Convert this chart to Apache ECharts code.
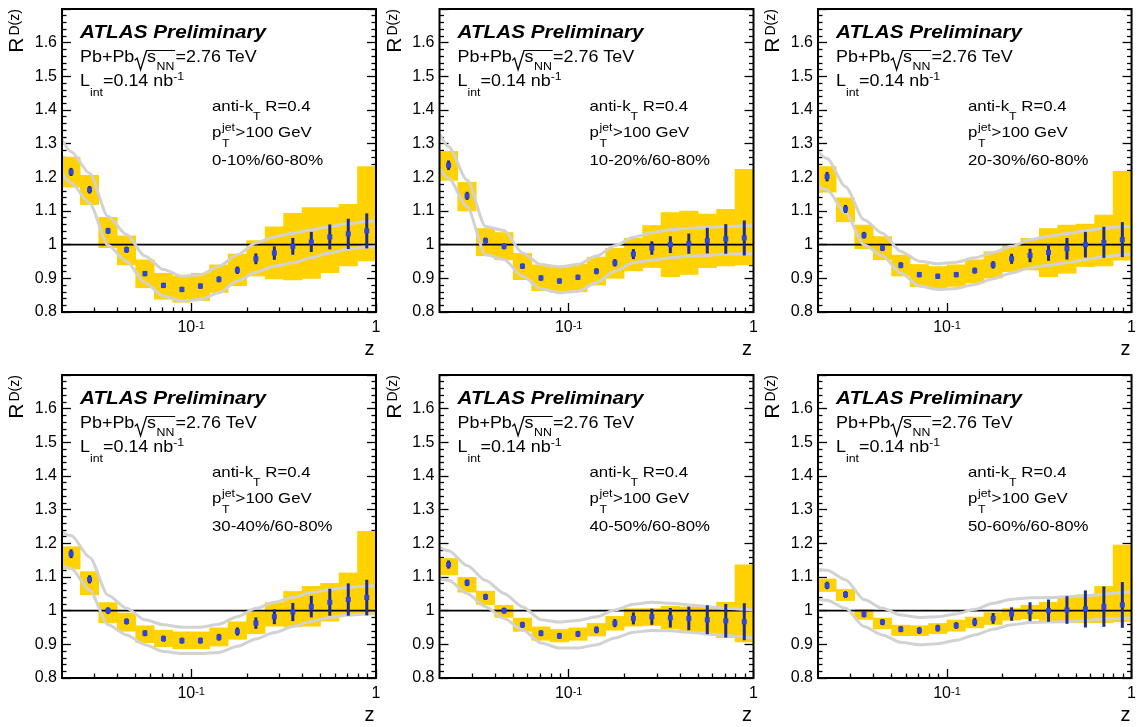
<!DOCTYPE html>
<html><head><meta charset="utf-8">
<script src="https://cdn.jsdelivr.net/npm/echarts@6/dist/echarts.min.js"></script>
<style>html,body{margin:0;padding:0;background:#fff}#c{width:1139px;height:727px}</style>
</head><body><div id="c"></div>
<script>
// ---------------- DATA ----------------
const zEdges = [0.0200, 0.0251, 0.0316, 0.0398, 0.0501, 0.0631, 0.0794, 0.1000, 0.1259, 0.1585, 0.1995, 0.2512, 0.3162, 0.3981, 0.5012, 0.6310, 0.7943, 1.0000];
const zCentres = [0.0224, 0.0282, 0.0355, 0.0447, 0.0562, 0.0708, 0.0891, 0.1122, 0.1413, 0.1778, 0.2239, 0.2818, 0.3548, 0.4467, 0.5623, 0.7079, 0.8913];
const zBand = [0.02, 0.0224, 0.0282, 0.0355, 0.0447, 0.0562, 0.0708, 0.0891, 0.1122, 0.1413, 0.1778, 0.2239, 0.2818, 0.3548, 0.4467, 0.5623, 0.7079, 0.8913, 1.0];
const xMajorTicks = [0.1, 1];
const xMinorTicks = [0.03, 0.04, 0.05, 0.06, 0.07, 0.08, 0.09, 0.2, 0.3, 0.4, 0.5, 0.6, 0.7, 0.8, 0.9];
const centralityLabels = ['0-10%/60-80%', '10-20%/60-80%', '20-30%/60-80%', '30-40%/60-80%', '40-50%/60-80%', '50-60%/60-80%'];

const p1Val   = [1.216, 1.163, 1.041, 0.985, 0.914, 0.879, 0.867, 0.877, 0.897, 0.924, 0.958, 0.975, 0.995, 1.008, 1.023, 1.032, 1.041];
const p1Stat  = [0.012, 0.011, 0.009, 0.009, 0.008, 0.008, 0.008, 0.008, 0.009, 0.011, 0.016, 0.020, 0.025, 0.030, 0.037, 0.045, 0.052];
const p1SysHi = [1.261, 1.207, 1.082, 1.027, 0.956, 0.916, 0.908, 0.916, 0.941, 0.973, 1.013, 1.054, 1.094, 1.111, 1.111, 1.121, 1.233];
const p1SysLo = [1.170, 1.118, 0.990, 0.939, 0.871, 0.837, 0.828, 0.833, 0.857, 0.877, 0.906, 0.897, 0.894, 0.899, 0.916, 0.936, 0.951];
const p1BandUp = [1.312, 1.276, 1.212, 1.084, 1.030, 0.966, 0.926, 0.906, 0.911, 0.936, 0.970, 1.005, 1.023, 1.034, 1.044, 1.054, 1.062, 1.069, 1.071];
const p1BandLo = [1.212, 1.184, 1.123, 0.998, 0.950, 0.887, 0.847, 0.833, 0.837, 0.857, 0.892, 0.918, 0.936, 0.946, 0.961, 0.975, 0.987, 0.993, 0.993];

const p2Val   = [1.236, 1.145, 1.012, 0.995, 0.936, 0.901, 0.892, 0.903, 0.921, 0.946, 0.972, 0.990, 1.000, 1.003, 1.012, 1.017, 1.020];
const p2Stat  = [0.014, 0.012, 0.009, 0.009, 0.008, 0.008, 0.008, 0.008, 0.009, 0.011, 0.015, 0.020, 0.025, 0.030, 0.038, 0.044, 0.052];
const p2SysHi = [1.278, 1.186, 1.049, 1.037, 0.975, 0.941, 0.933, 0.943, 0.964, 0.990, 1.020, 1.058, 1.096, 1.101, 1.092, 1.106, 1.225];
const p2SysLo = [1.190, 1.099, 0.966, 0.954, 0.895, 0.862, 0.857, 0.859, 0.879, 0.899, 0.921, 0.931, 0.904, 0.911, 0.931, 0.936, 0.939];
const p2BandUp = [1.330, 1.291, 1.192, 1.054, 1.042, 0.975, 0.941, 0.934, 0.941, 0.966, 0.997, 1.022, 1.036, 1.044, 1.049, 1.052, 1.054, 1.056, 1.056];
const p2BandLo = [1.227, 1.197, 1.113, 0.970, 0.956, 0.906, 0.869, 0.857, 0.862, 0.887, 0.921, 0.946, 0.954, 0.961, 0.966, 0.968, 0.972, 0.973, 0.973];

const p3Val   = [1.202, 1.106, 1.028, 0.990, 0.939, 0.911, 0.906, 0.911, 0.923, 0.940, 0.958, 0.968, 0.977, 0.988, 1.000, 1.007, 1.015];
const p3Stat  = [0.014, 0.012, 0.010, 0.009, 0.009, 0.008, 0.008, 0.008, 0.009, 0.011, 0.015, 0.020, 0.025, 0.032, 0.038, 0.046, 0.052];
const p3SysHi = [1.233, 1.140, 1.059, 1.025, 0.970, 0.942, 0.936, 0.941, 0.956, 0.980, 0.997, 1.020, 1.049, 1.059, 1.062, 1.089, 1.219];
const p3SysLo = [1.155, 1.067, 0.987, 0.954, 0.906, 0.874, 0.870, 0.875, 0.885, 0.900, 0.919, 0.924, 0.904, 0.914, 0.934, 0.936, 0.953];
const p3BandUp = [1.276, 1.256, 1.172, 1.074, 1.034, 0.980, 0.951, 0.943, 0.948, 0.961, 0.977, 0.995, 1.015, 1.025, 1.033, 1.041, 1.049, 1.054, 1.054];
const p3BandLo = [1.174, 1.163, 1.094, 1.000, 0.966, 0.916, 0.877, 0.867, 0.870, 0.882, 0.899, 0.916, 0.931, 0.939, 0.946, 0.956, 0.964, 0.970, 0.972];

const p4Val   = [1.169, 1.093, 1.000, 0.968, 0.933, 0.917, 0.911, 0.911, 0.921, 0.938, 0.963, 0.982, 0.996, 1.012, 1.025, 1.033, 1.039];
const p4Stat  = [0.013, 0.012, 0.010, 0.009, 0.009, 0.009, 0.009, 0.009, 0.010, 0.012, 0.017, 0.022, 0.027, 0.032, 0.040, 0.048, 0.053];
const p4SysHi = [1.191, 1.117, 1.025, 0.994, 0.956, 0.943, 0.938, 0.938, 0.950, 0.968, 0.997, 1.025, 1.058, 1.073, 1.082, 1.113, 1.237];
const p4SysLo = [1.123, 1.046, 0.963, 0.938, 0.904, 0.892, 0.886, 0.886, 0.894, 0.914, 0.931, 0.953, 0.951, 0.953, 0.968, 0.984, 0.990];
const p4BandUp = [1.232, 1.223, 1.159, 1.046, 1.007, 0.973, 0.958, 0.951, 0.951, 0.960, 0.982, 1.007, 1.025, 1.039, 1.053, 1.063, 1.069, 1.073, 1.073];
const p4BandLo = [1.134, 1.125, 1.061, 0.958, 0.928, 0.899, 0.879, 0.873, 0.873, 0.876, 0.894, 0.916, 0.935, 0.953, 0.968, 0.980, 0.987, 0.990, 0.990];

const p5Val   = [1.137, 1.083, 1.041, 1.000, 0.958, 0.933, 0.925, 0.931, 0.943, 0.963, 0.977, 0.982, 0.979, 0.977, 0.973, 0.970, 0.967];
const p5Stat  = [0.012, 0.010, 0.009, 0.009, 0.009, 0.009, 0.009, 0.009, 0.010, 0.012, 0.018, 0.024, 0.029, 0.035, 0.043, 0.050, 0.055];
const p5SysHi = [1.156, 1.100, 1.059, 1.017, 0.979, 0.953, 0.945, 0.950, 0.963, 0.984, 1.007, 1.007, 1.014, 1.012, 1.012, 1.026, 1.137];
const p5SysLo = [1.105, 1.054, 1.017, 0.979, 0.938, 0.911, 0.906, 0.911, 0.924, 0.941, 0.953, 0.955, 0.945, 0.933, 0.931, 0.919, 0.906];
const p5BandUp = [1.188, 1.178, 1.134, 1.090, 1.051, 1.012, 0.973, 0.966, 0.971, 0.982, 1.002, 1.019, 1.025, 1.022, 1.017, 1.012, 1.007, 1.004, 1.002];
const p5BandLo = [1.095, 1.090, 1.051, 1.012, 0.977, 0.943, 0.904, 0.889, 0.889, 0.899, 0.919, 0.936, 0.941, 0.940, 0.936, 0.931, 0.926, 0.922, 0.919];

const p6Val   = [1.075, 1.048, 0.989, 0.966, 0.945, 0.941, 0.948, 0.956, 0.966, 0.977, 0.990, 0.997, 1.000, 1.002, 1.005, 1.012, 1.017];
const p6Stat  = [0.011, 0.010, 0.009, 0.009, 0.009, 0.010, 0.010, 0.010, 0.012, 0.016, 0.020, 0.028, 0.033, 0.041, 0.055, 0.060, 0.068];
const p6SysHi = [1.095, 1.064, 1.005, 0.979, 0.958, 0.956, 0.963, 0.973, 0.982, 0.995, 1.007, 1.017, 1.026, 1.039, 1.048, 1.073, 1.196];
const p6SysLo = [1.056, 1.029, 0.973, 0.945, 0.925, 0.925, 0.931, 0.938, 0.948, 0.958, 0.971, 0.975, 0.966, 0.963, 0.963, 0.963, 0.966];
const p6BandUp = [1.122, 1.120, 1.092, 1.033, 1.007, 0.987, 0.980, 0.982, 0.990, 1.004, 1.022, 1.034, 1.038, 1.039, 1.041, 1.044, 1.049, 1.054, 1.056];
const p6BandLo = [1.034, 1.031, 1.007, 0.953, 0.928, 0.906, 0.899, 0.902, 0.912, 0.928, 0.945, 0.958, 0.965, 0.966, 0.968, 0.971, 0.975, 0.977, 0.979];

// ---------------- BUILD ----------------
const panels = [
  {val: p1Val, stat: p1Stat, hi: p1SysHi, lo: p1SysLo, up: p1BandUp, dn: p1BandLo},
  {val: p2Val, stat: p2Stat, hi: p2SysHi, lo: p2SysLo, up: p2BandUp, dn: p2BandLo},
  {val: p3Val, stat: p3Stat, hi: p3SysHi, lo: p3SysLo, up: p3BandUp, dn: p3BandLo},
  {val: p4Val, stat: p4Stat, hi: p4SysHi, lo: p4SysLo, up: p4BandUp, dn: p4BandLo},
  {val: p5Val, stat: p5Stat, hi: p5SysHi, lo: p5SysLo, up: p5BandUp, dn: p5BandLo},
  {val: p6Val, stat: p6Stat, hi: p6SysHi, lo: p6SysLo, up: p6BandUp, dn: p6BandLo}
];

const FONT = '"Liberation Sans", Arial, Helvetica, sans-serif';
const mctx = document.createElement('canvas').getContext('2d');
function tw(s, size, w, st) { mctx.font = (st || 'normal') + ' ' + (w || 'normal') + ' ' + size + 'px ' + FONT; return mctx.measureText(s).width; }
function txt(x, base, s, size, o) {
  o = o || {};
  return {type: 'text', x: x, y: base - 0.3465 * size, silent: true, z: 100,
    style: {text: s, fontSize: size, fontFamily: FONT, fontWeight: o.w || 'normal', fontStyle: o.st || 'normal',
      fill: '#000', align: o.align || 'left', verticalAlign: 'middle'}};
}
function runLine(parts) {
  let x = 0; const ch = [];
  parts.forEach(p => {
    if (p.gap) { x += p.gap; return; }
    ch.push(txt(x, p.dy || 0, p.t, p.size, p));
    x += tw(p.t, p.size, p.w, p.st);
  });
  return {ch: ch, w: x};
}
const SX = 1.12;

const colL = [62, 439.5, 818], rowT = [9, 375], W = 314, H = 303;
const grids = [], xAxes = [], yAxes = [], series = [], graphics = [];
const tickStyle = {color: '#000', width: 1.3};

panels.forEach((p, i) => {
  const L = colL[i % 3], T = rowT[Math.floor(i / 3)];
  grids.push({left: L, top: T, width: W, height: H, show: true, borderColor: '#000', borderWidth: 2, backgroundColor: 'transparent', z: 10});
  const xi = xAxes.length, yi = yAxes.length;
  xAxes.push({type: 'log', logBase: 10, gridIndex: i, min: 0.02, max: 1, position: 'bottom',
    axisLine: {show: false}, splitLine: {show: false},
    axisTick: {show: true, inside: true, length: 9, customValues: xMajorTicks, lineStyle: tickStyle},
    axisLabel: {show: true, customValues: xMajorTicks, margin: 8, color: '#000',
      formatter: v => Math.abs(v - 1) < 1e-6 ? '{b|1}' : '{b|10}{s|-1}',
      rich: {b: {fontSize: 16, fontFamily: FONT, color: '#000', lineHeight: 16},
             s: {fontSize: 11, fontFamily: FONT, color: '#000', lineHeight: 11, verticalAlign: 'top'}}}});
  xAxes.push({type: 'log', logBase: 10, gridIndex: i, min: 0.02, max: 1, position: 'bottom',
    axisLine: {show: false}, splitLine: {show: false},
    axisTick: {show: true, inside: true, length: 4.5, customValues: xMinorTicks, lineStyle: tickStyle},
    axisLabel: {show: false}});
  const yBase = {type: 'value', gridIndex: i, min: 0.8, max: 1.7, interval: 0.1,
    axisLine: {show: false}, splitLine: {show: false},
    axisTick: {show: true, inside: true, length: 9, lineStyle: tickStyle},
    minorTick: {show: true, splitNumber: 5, length: 4.5, lineStyle: tickStyle}};
  yAxes.push(Object.assign({}, yBase, {position: 'left',
    axisLabel: {show: true, margin: 5, fontSize: 16, fontFamily: FONT, color: '#000', showMaxLabel: false,
      formatter: v => Math.abs(v - 1) < 1e-9 ? '1' : v.toFixed(1)}}));
  yAxes.push(Object.assign({}, yBase, {position: 'right', axisLabel: {show: false}}));

  // systematic boxes
  series.push({type: 'custom', xAxisIndex: xi, yAxisIndex: yi, z: 1, silent: true, animation: false,
    data: p.lo.map((lo, k) => [zEdges[k], zEdges[k + 1], lo, p.hi[k]]),
    encode: {x: [0, 1], y: [2, 3]},
    renderItem: (params, api) => {
      const a = api.coord([api.value(0), api.value(3)]);
      const b = api.coord([api.value(1), api.value(2)]);
      return {type: 'rect', shape: {x: a[0] - 0.3, y: a[1], width: b[0] - a[0] + 0.6, height: b[1] - a[1]}, style: {fill: '#FFD200'}};
    }});
  // unity line
  series.push({type: 'line', xAxisIndex: xi, yAxisIndex: yi, z: 2, silent: true, animation: false, symbol: 'none',
    data: [[0.02, 1], [1, 1]], lineStyle: {color: '#000', width: 1.6}});
  // grey band lines
  [p.up, p.dn].forEach(arr => {
    series.push({type: 'line', xAxisIndex: xi, yAxisIndex: yi, z: 3, silent: true, animation: false, symbol: 'none',
      smooth: 0.25, smoothMonotone: 'x',
      data: arr.map((v, k) => [zBand[k], v]), lineStyle: {color: '#d2d2d2', width: 3}});
  });
  // data points with stat errors
  series.push({type: 'custom', xAxisIndex: xi, yAxisIndex: yi, z: 4, silent: true, animation: false,
    data: p.val.map((v, k) => [zCentres[k], v, p.stat[k]]),
    encode: {x: 0, y: 1},
    renderItem: (params, api) => {
      const z = api.value(0), v = api.value(1), e = api.value(2);
      const c = api.coord([z, v]), t = api.coord([z, v + e]), b = api.coord([z, v - e]);
      return {type: 'group', children: [
        {type: 'line', shape: {x1: c[0], y1: t[1], x2: c[0], y2: b[1]}, style: {stroke: '#1c2c92', lineWidth: 3}},
        {type: 'rect', shape: {x: c[0] - 2.5, y: c[1] - 2.5, width: 5, height: 5}, style: {fill: '#2a46de'}}
      ]};
    }});

  // ---- texts ----
  graphics.push(Object.assign(txt(L + 18, T + 30, 'ATLAS Preliminary', 18.5, {w: 'bold', st: 'italic'}), {scaleX: SX}));

  // Pb+Pb sqrt(s_NN)=2.76 TeV
  {
    const w1 = tw('Pb+Pb', 16);
    const a = w1 + 0.3;
    const sx = a + 11;
    const wS = tw('s', 16), wNN = tw('NN', 11);
    const end = sx + wS + 0.5 + wNN + 0.8;
    const ch = [
      txt(0, 0, 'Pb+Pb', 16),
      {type: 'polyline', silent: true, z: 100, shape: {points: [[a, -3], [a + 2.2, -5.2], [a + 5.3, 6.5], [a + 10.6, -12.8], [end, -12.8]]},
        style: {stroke: '#000', lineWidth: 1.2, fill: null}},
      txt(sx, 0, 's', 16),
      txt(sx + wS + 0.5, 7.6, 'NN', 11),
      txt(end + 0.3, 0, '=2.76 TeV', 16)
    ];
    graphics.push({type: 'group', x: L + 18, y: T + 54.3, scaleX: SX, children: ch});
  }
  // L_int
  {
    const r = runLine([{t: 'L', size: 16}, {t: 'int', size: 11, dy: 8.8}, {t: '=0.14 nb', size: 16}, {t: '-1', size: 11, dy: -6.5}]);
    graphics.push({type: 'group', x: L + 18, y: T + 78.5, scaleX: SX, children: r.ch});
  }
  // anti-kT
  {
    const r = runLine([{t: 'anti-k', size: 15}, {t: 'T', size: 11, dy: 8.8}, {t: ' R=0.4', size: 15}]);
    graphics.push({type: 'group', x: L + 150, y: T + 102.7, scaleX: SX, children: r.ch});
  }
  // pT jet
  {
    const wp = tw('p', 15);
    const wj = tw('jet', 11);
    const ch = [txt(0, 0, 'p', 15), txt(wp + 0.5, -6.3, 'jet', 11), txt(wp + 0.5, 9.8, 'T', 11), txt(wp + 0.5 + wj + 0.6, 0, '>100 GeV', 15)];
    graphics.push({type: 'group', x: L + 150, y: T + 129.3, scaleX: SX, children: ch});
  }
  graphics.push(Object.assign(txt(L + 150, T + 156.7, centralityLabels[i], 15), {scaleX: SX}));

  // y title R_D(z)
  graphics.push({type: 'text', x: L - 44.5, y: T + 28.5, rotation: Math.PI / 2, silent: true, z: 100,
    style: {text: 'R', fontSize: 21, fontFamily: FONT, fill: '#000', align: 'right', verticalAlign: 'middle'}});
  graphics.push({type: 'text', x: L - 46.5, y: T + 26.5, rotation: Math.PI / 2, silent: true, z: 100,
    style: {text: 'D(z)', fontSize: 14, fontFamily: FONT, fill: '#000', align: 'left', verticalAlign: 'middle'}});
  // x title z
  graphics.push(txt(L + W - 1.5, T + H + 44, 'z', 20, {align: 'right'}));
});

const chart = echarts.init(document.getElementById('c'), null, {renderer: 'canvas'});
chart.setOption({
  animation: false,
  backgroundColor: '#fff',
  grid: grids, xAxis: xAxes, yAxis: yAxes, series: series,
  graphic: {elements: graphics}
});
</script>
</body></html>
